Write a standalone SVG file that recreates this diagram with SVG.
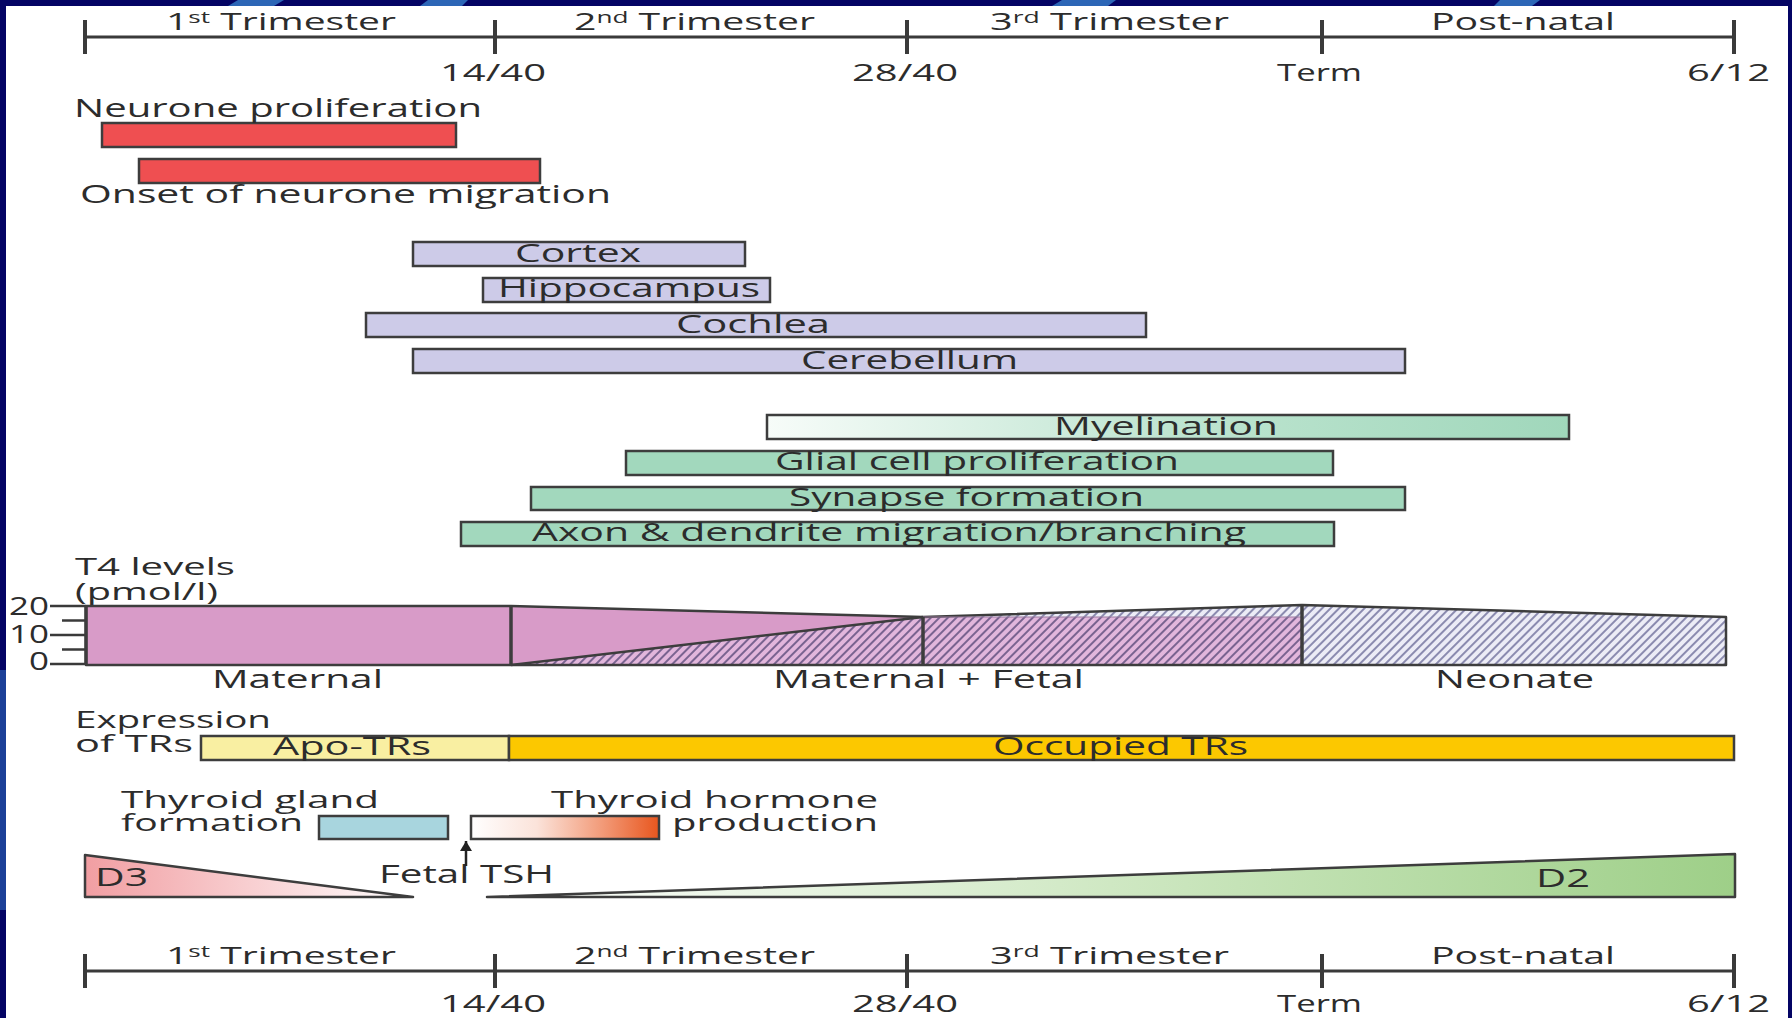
<svg xmlns="http://www.w3.org/2000/svg" width="1792" height="1018" viewBox="0 0 1792 1018">
<style>
  text { font-family: "Open Sans", "Noto Sans", "Liberation Sans", sans-serif; fill: #2c2c2c; font-size: 25px; }
  .ax { font-size: 24px; }
  .st { font-size: 24px; }
  .sm { font-size: 25px; }
  .axis { stroke: #3a3a3a; stroke-width: 3; fill: none; }
  .tick { stroke: #3a3a3a; stroke-width: 4; }
  .bar { stroke: #3d3d3d; stroke-width: 2.5; }
  .red { fill: #ef4f51; }
  .lav { fill: #cdcbe8; }
  .mint { fill: #a2d8bd; }
  .ol { stroke: #3d3d3d; stroke-width: 2.5; stroke-linejoin: round; }
</style>
<defs>
  <pattern id="hatchPink" patternUnits="userSpaceOnUse" width="6" height="6" patternTransform="rotate(45)">
    <rect width="6" height="6" fill="#e2b6dc"/>
    <line x1="3" y1="0" x2="3" y2="6" stroke="#6e5a88" stroke-width="1.8"/>
  </pattern>
  <pattern id="hatchLav" patternUnits="userSpaceOnUse" width="6" height="6" patternTransform="rotate(45)">
    <rect width="6" height="6" fill="#ececf6"/>
    <line x1="3" y1="0" x2="3" y2="6" stroke="#8080a8" stroke-width="1.8"/>
  </pattern>
  <linearGradient id="gMyel" x1="0" y1="0" x2="1" y2="0">
    <stop offset="0" stop-color="#f7fcf9"/>
    <stop offset="0.5" stop-color="#bfe5d1"/>
    <stop offset="1" stop-color="#a0d7bb"/>
  </linearGradient>
  <linearGradient id="gTH" x1="0" y1="0" x2="1" y2="0">
    <stop offset="0" stop-color="#ffffff"/>
    <stop offset="0.35" stop-color="#fbe3da"/>
    <stop offset="0.7" stop-color="#f29a78"/>
    <stop offset="1" stop-color="#e8561e"/>
  </linearGradient>
  <linearGradient id="gD3" x1="0" y1="0" x2="1" y2="0">
    <stop offset="0" stop-color="#f19ea2"/>
    <stop offset="1" stop-color="#ffffff"/>
  </linearGradient>
  <linearGradient id="gD2" x1="0" y1="0" x2="1" y2="0">
    <stop offset="0" stop-color="#ffffff"/>
    <stop offset="0.5" stop-color="#cfe8c3"/>
    <stop offset="1" stop-color="#9ecf88"/>
  </linearGradient>
  <marker id="ah" markerWidth="10" markerHeight="12" refX="10" refY="6" orient="auto" markerUnits="userSpaceOnUse">
    <path d="M0,0 L10,6 L0,12 Z" fill="#222"/>
  </marker>
</defs>

<g id="background">
  <rect width="1792" height="1018" fill="#040464"/>
  <path d="M238,0 L284,0 L274,6 L228,6 Z" fill="#2c66b6"/>
  <path d="M428,0 L468,0 L462,6 L420,6 Z" fill="#2c66b6"/>
  <path d="M1062,0 L1116,0 L1108,6 L1052,6 Z" fill="#2c66b6"/>
  <path d="M1500,0 L1540,0 L1532,6 L1494,6 Z" fill="#2c66b6"/>
  <rect x="0" y="670" width="6" height="240" fill="#1b3f98"/>
  <rect x="6" y="6" width="1782" height="1012" fill="#ffffff"/>
</g>

<g id="axis-top">
  <line class="axis" x1="85" y1="37" x2="1734" y2="37"/>
  <line class="tick" x1="85" y1="20" x2="85" y2="54"/>
  <line class="tick" x1="495" y1="20" x2="495" y2="54"/>
  <line class="tick" x1="907" y1="20" x2="907" y2="54"/>
  <line class="tick" x1="1322" y1="20" x2="1322" y2="54"/>
  <line class="tick" x1="1734" y1="20" x2="1734" y2="54"/>
  <text class="ax" x="166" y="30" textLength="230" lengthAdjust="spacingAndGlyphs">1<tspan font-size="16" dy="-7">st</tspan><tspan dy="7"> Trimester</tspan></text>
  <text class="ax" x="574" y="30" textLength="241" lengthAdjust="spacingAndGlyphs">2<tspan font-size="16" dy="-7">nd</tspan><tspan dy="7"> Trimester</tspan></text>
  <text class="ax" x="990" y="30" textLength="239" lengthAdjust="spacingAndGlyphs">3<tspan font-size="16" dy="-7">rd</tspan><tspan dy="7"> Trimester</tspan></text>
  <text class="ax" x="1431" y="30" textLength="184" lengthAdjust="spacingAndGlyphs">Post-natal</text>
  <text class="ax" x="440" y="81" textLength="106" lengthAdjust="spacingAndGlyphs">14/40</text>
  <text class="ax" x="852" y="81" textLength="106" lengthAdjust="spacingAndGlyphs">28/40</text>
  <text class="ax" x="1277" y="81" textLength="85" lengthAdjust="spacingAndGlyphs">Term</text>
  <text class="ax" x="1687" y="81" textLength="83" lengthAdjust="spacingAndGlyphs">6/12</text>
</g>

<g id="neurone-proliferation">
  <rect class="bar red" x="102" y="123" width="354" height="24"/>
  <text x="74" y="117" textLength="408" lengthAdjust="spacingAndGlyphs">Neurone proliferation</text>
</g>
<g id="neurone-migration">
  <rect class="bar red" x="139" y="159" width="401" height="24"/>
  <text x="80" y="203" textLength="531" lengthAdjust="spacingAndGlyphs">Onset of neurone migration</text>
</g>

<g id="cortex">
  <rect class="bar lav" x="413" y="242" width="332" height="24"/>
  <text x="515" y="262" textLength="126" lengthAdjust="spacingAndGlyphs">Cortex</text>
</g>
<g id="hippocampus">
  <rect class="bar lav" x="483" y="278" width="287" height="24"/>
  <text x="498" y="297" textLength="262" lengthAdjust="spacingAndGlyphs">Hippocampus</text>
</g>
<g id="cochlea">
  <rect class="bar lav" x="366" y="313" width="780" height="24"/>
  <text x="676" y="333" textLength="154" lengthAdjust="spacingAndGlyphs">Cochlea</text>
</g>
<g id="cerebellum">
  <rect class="bar lav" x="413" y="349" width="992" height="24"/>
  <text x="801" y="369" textLength="217" lengthAdjust="spacingAndGlyphs">Cerebellum</text>
</g>

<g id="myelination">
  <rect class="bar" fill="url(#gMyel)" x="767" y="415" width="802" height="24"/>
  <text x="1054" y="435" textLength="224" lengthAdjust="spacingAndGlyphs">Myelination</text>
</g>
<g id="glial">
  <rect class="bar mint" x="626" y="451" width="707" height="24"/>
  <text x="775" y="470" textLength="404" lengthAdjust="spacingAndGlyphs">Glial cell proliferation</text>
</g>
<g id="synapse">
  <rect class="bar mint" x="531" y="487" width="874" height="23"/>
  <text x="789" y="506" textLength="355" lengthAdjust="spacingAndGlyphs">Synapse formation</text>
</g>
<g id="axon">
  <rect class="bar mint" x="461" y="522" width="873" height="24"/>
  <text x="532" y="541" textLength="714" lengthAdjust="spacingAndGlyphs">Axon &amp; dendrite migration/branching</text>
</g>

<g id="t4-levels">
  <text class="st" x="75" y="575" textLength="160" lengthAdjust="spacingAndGlyphs">T4 levels</text>
  <text class="st" x="75" y="600" textLength="143" lengthAdjust="spacingAndGlyphs">(pmol/l)</text>
  <text class="sm" x="9" y="615" textLength="40" lengthAdjust="spacingAndGlyphs">20</text>
  <text class="sm" x="9" y="643" textLength="40" lengthAdjust="spacingAndGlyphs">10</text>
  <text class="sm" x="29" y="670" textLength="20" lengthAdjust="spacingAndGlyphs">0</text>
  <g stroke="#3a3a3a" stroke-width="2.5">
    <line x1="50" y1="606" x2="86" y2="606"/>
    <line x1="62" y1="620.5" x2="86" y2="620.5"/>
    <line x1="50" y1="635" x2="86" y2="635"/>
    <line x1="62" y1="649.5" x2="86" y2="649.5"/>
    <line x1="50" y1="664" x2="86" y2="664"/>
  </g>
  <rect x="86" y="606" width="425" height="59" fill="#d89bc8"/>
  <polygon points="511,606 923,617 511,665" fill="#d89bc8"/>
  <polygon points="511,665 923,617 923,665" fill="url(#hatchPink)"/>
  <rect x="923" y="617" width="379" height="48" fill="url(#hatchPink)"/>
  <polygon points="923,617 1302,605 1302,617" fill="url(#hatchLav)"/>
  <polygon points="1302,605 1726,617 1726,665 1302,665" fill="url(#hatchLav)"/>
  <path class="ol" fill="none" d="M86,606 L511,606 L923,617 L1302,605 L1726,617 L1726,665 L86,665 Z"/>
  <line x1="923" y1="617" x2="1302" y2="617" stroke="#9a7aa0" stroke-width="1"/>
  <g stroke="#3d3d3d" stroke-width="3.5">
    <line x1="86" y1="606" x2="86" y2="665"/>
    <line x1="511" y1="606" x2="511" y2="665"/>
    <line x1="923" y1="617" x2="923" y2="665"/>
    <line x1="1302" y1="605" x2="1302" y2="665"/>
  </g>
  <line x1="511" y1="665" x2="923" y2="617" stroke="#3d3d3d" stroke-width="2.5"/>
  <text x="212" y="688" textLength="171" lengthAdjust="spacingAndGlyphs">Maternal</text>
  <text x="773" y="688" textLength="311" lengthAdjust="spacingAndGlyphs">Maternal + Fetal</text>
  <text x="1435" y="688" textLength="159" lengthAdjust="spacingAndGlyphs">Neonate</text>
</g>

<g id="tr-expression">
  <text class="st" x="75" y="728" textLength="196" lengthAdjust="spacingAndGlyphs">Expression</text>
  <text class="st" x="75" y="752" textLength="118" lengthAdjust="spacingAndGlyphs">of TRs</text>
  <rect class="bar" fill="#f9efa2" x="201" y="736" width="308" height="24"/>
  <rect class="bar" fill="#fcc800" x="509" y="736" width="1225" height="24"/>
  <text x="273" y="755" textLength="158" lengthAdjust="spacingAndGlyphs">Apo-TRs</text>
  <text x="993" y="755" textLength="255" lengthAdjust="spacingAndGlyphs">Occupied TRs</text>
</g>

<g id="thyroid-gland">
  <text class="st" x="121" y="808" textLength="258" lengthAdjust="spacingAndGlyphs">Thyroid gland</text>
  <text class="st" x="121" y="831" textLength="182" lengthAdjust="spacingAndGlyphs">formation</text>
  <rect class="bar" fill="#a8d5de" x="319" y="816" width="129" height="23"/>
</g>
<g id="thyroid-hormone">
  <rect class="bar" fill="url(#gTH)" x="471" y="816" width="188" height="23"/>
  <text class="st" x="551" y="808" textLength="327" lengthAdjust="spacingAndGlyphs">Thyroid hormone</text>
  <text class="st" x="672" y="831" textLength="206" lengthAdjust="spacingAndGlyphs">production</text>
</g>
<g id="fetal-tsh">
  <text x="379" y="883" textLength="175" lengthAdjust="spacingAndGlyphs">Fetal TSH</text>
</g>
<g id="connectors">
  <line x1="466" y1="866" x2="466" y2="841" stroke="#222" stroke-width="2.5" marker-end="url(#ah)"/>
</g>

<g id="d3">
  <path class="ol" fill="url(#gD3)" d="M85,855 L413,897 L85,897 Z"/>
  <text x="95" y="886" textLength="53" lengthAdjust="spacingAndGlyphs">D3</text>
</g>
<g id="d2">
  <path class="ol" fill="url(#gD2)" d="M487,897 L1735,854 L1735,897 Z"/>
  <text x="1536" y="887" textLength="54" lengthAdjust="spacingAndGlyphs">D2</text>
</g>

<g id="axis-bottom">
  <line class="axis" x1="85" y1="971" x2="1734" y2="971"/>
  <line class="tick" x1="85" y1="954" x2="85" y2="988"/>
  <line class="tick" x1="495" y1="954" x2="495" y2="988"/>
  <line class="tick" x1="907" y1="954" x2="907" y2="988"/>
  <line class="tick" x1="1322" y1="954" x2="1322" y2="988"/>
  <line class="tick" x1="1734" y1="954" x2="1734" y2="988"/>
  <text class="ax" x="166" y="964" textLength="230" lengthAdjust="spacingAndGlyphs">1<tspan font-size="16" dy="-7">st</tspan><tspan dy="7"> Trimester</tspan></text>
  <text class="ax" x="574" y="964" textLength="241" lengthAdjust="spacingAndGlyphs">2<tspan font-size="16" dy="-7">nd</tspan><tspan dy="7"> Trimester</tspan></text>
  <text class="ax" x="990" y="964" textLength="239" lengthAdjust="spacingAndGlyphs">3<tspan font-size="16" dy="-7">rd</tspan><tspan dy="7"> Trimester</tspan></text>
  <text class="ax" x="1431" y="964" textLength="184" lengthAdjust="spacingAndGlyphs">Post-natal</text>
  <text class="ax" x="440" y="1012" textLength="106" lengthAdjust="spacingAndGlyphs">14/40</text>
  <text class="ax" x="852" y="1012" textLength="106" lengthAdjust="spacingAndGlyphs">28/40</text>
  <text class="ax" x="1277" y="1012" textLength="85" lengthAdjust="spacingAndGlyphs">Term</text>
  <text class="ax" x="1687" y="1012" textLength="83" lengthAdjust="spacingAndGlyphs">6/12</text>
</g>
</svg>
